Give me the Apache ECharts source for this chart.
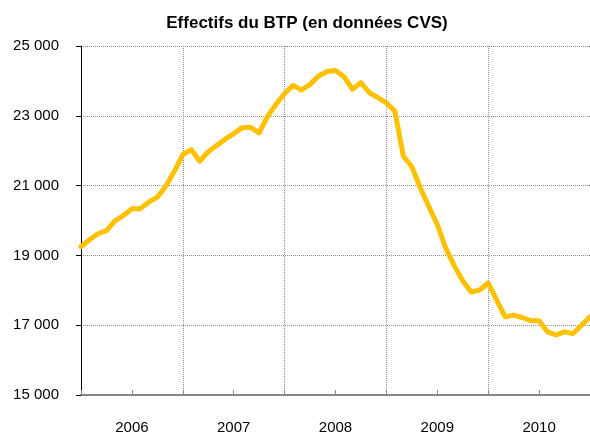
<!DOCTYPE html>
<html>
<head>
<meta charset="utf-8">
<script src="https://cdn.jsdelivr.net/npm/echarts@6/dist/echarts.min.js"></script>
<style>html,body{margin:0;padding:0;background:#fff}#c{width:590px;height:435px}</style>
</head>
<body>
<div id="c"></div>
<script>
var titleText = 'Effectifs du BTP (en données CVS)';
var years = ['2006', '2007', '2008', '2009', '2010', '2011'];
var yTicks = [15000, 17000, 19000, 21000, 23000, 25000];
// Monthly values, Jan 2006 .. Jan 2011
var effectifs = [
  19250, 19450, 19620, 19710, 19990, 20140, 20340, 20340, 20530, 20670, 20980, 21410,
  21890, 22030, 21700, 21970, 22150, 22330, 22490, 22660, 22670, 22510, 22990, 23330,
  23640, 23870, 23740, 23900, 24140, 24270, 24300, 24120, 23760, 23950, 23660, 23520,
  23370, 23130, 21840, 21540, 20930, 20400, 19880, 19210, 18700, 18270, 17950, 18010,
  18210, 17720, 17240, 17290, 17220, 17130, 17130, 16810, 16720, 16810, 16760, 17000,
  17240
];
var months = [];
for (var y = 0; y < years.length; y++) {
  for (var m = 1; m <= 12; m++) {
    if (months.length < effectifs.length) months.push(years[y] + '-' + (m < 10 ? '0' + m : m));
  }
}
var font = 'Liberation Sans';
var chart = echarts.init(document.getElementById('c'), null, {renderer: 'canvas'});
chart.setOption({
  animation: false,
  backgroundColor: '#ffffff',
  title: {
    text: titleText,
    left: 307,
    textAlign: 'center',
    top: 15,
    padding: 0,
    textStyle: {fontFamily: font, fontWeight: 'bold', fontSize: 17, color: '#000'}
  },
  grid: {left: 81, right: 0, top: 46, bottom: 40, containLabel: false},
  xAxis: {
    type: 'category',
    data: months,
    boundaryGap: false,
    axisLine: {show: true, lineStyle: {color: '#868686', width: 2}},
    axisTick: {show: true, inside: true, length: 5, lineStyle: {color: '#868686'},
      interval: function (i) { return i % 6 === 0; }},
    axisLabel: {
      interval: function (i) { return i % 12 === 6; },
      formatter: function (v) { return v.slice(0, 4); },
      margin: 25, fontFamily: font, fontSize: 15, color: '#000'
    },
    splitLine: {show: true, interval: function (i) { return i % 12 === 0 && i > 0; },
      lineStyle: {color: '#8c8c8c', type: [1, 1], width: 1}}
  },
  yAxis: {
    type: 'value',
    min: yTicks[0],
    max: yTicks[yTicks.length - 1],
    interval: yTicks[1] - yTicks[0],
    axisLine: {show: true, lineStyle: {color: '#000', width: 1}},
    axisTick: {show: true, inside: false, length: 5, lineStyle: {color: '#000'}},
    axisLabel: {
      margin: 22, fontFamily: font, fontSize: 15, color: '#000',
      formatter: function (v) { return String(v).replace(/\B(?=(\d{3})+(?!\d))/g, ' '); }
    },
    splitLine: {show: true, lineStyle: {color: '#8c8c8c', type: [1, 1], width: 1}}
  },
  series: [{
    type: 'line',
    data: effectifs,
    showSymbol: false,
    symbol: 'none',
    lineStyle: {color: '#FFC000', width: 5, join: 'round', cap: 'round'},
    itemStyle: {color: '#FFC000'}
  }]
});
</script>
</body>
</html>
